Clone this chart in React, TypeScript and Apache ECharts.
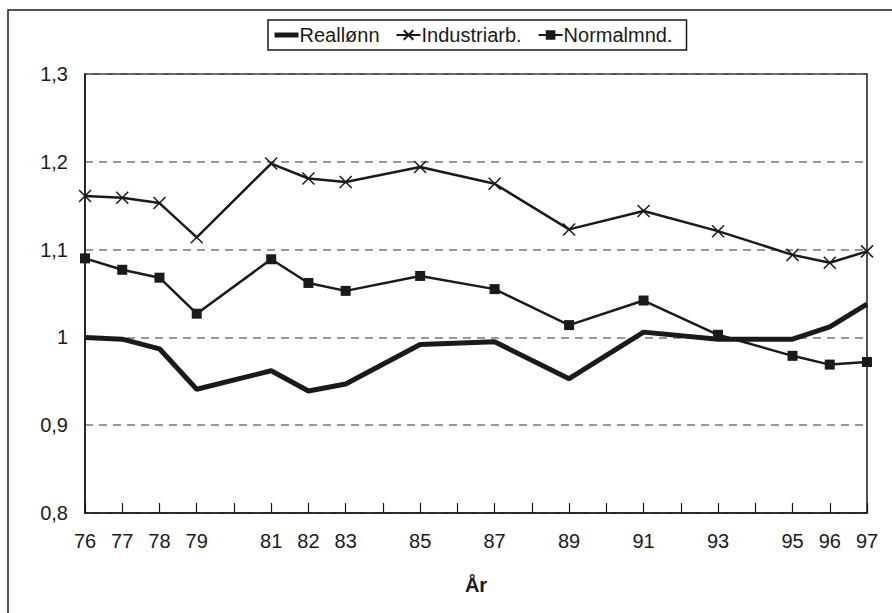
import React, { useEffect, useRef } from "react";
import * as echarts from "echarts";

const years = [76, 77, 78, 79, 81, 82, 83, 85, 87, 89, 91, 93, 95, 96, 97];
const reallonn = [1.0, 0.998, 0.987, 0.941, 0.962, 0.939, 0.947, 0.992, 0.995, 0.953, 1.006, 0.998, 0.998, 1.012, 1.038];
const industriarb = [1.161, 1.159, 1.153, 1.114, 1.198, 1.181, 1.177, 1.194, 1.175, 1.123, 1.144, 1.121, 1.094, 1.085, 1.098];
const normalmnd = [1.09, 1.077, 1.068, 1.027, 1.089, 1.062, 1.053, 1.07, 1.055, 1.014, 1.042, 1.003, 0.979, 0.969, 0.972];
const seriesNames = ["Reallønn", "Industriarb.", "Normalmnd."];

const FONT = "'Liberation Sans', Arial, Helvetica, sans-serif";
const INK = "#1a1a1a";

export default function App() {
  const ref = useRef<HTMLDivElement>(null);
  useEffect(() => {
    if (!ref.current) return;
    const chart = echarts.init(ref.current, null, { renderer: "svg" });
    const pairs = (vals: number[]) => years.map((y, i) => [y, vals[i]]);
    chart.setOption({
      animation: false,
      backgroundColor: "#ffffff",
      textStyle: { fontFamily: FONT, color: INK },
      graphic: [
        {
          type: "rect",
          shape: { x: 8, y: 10, width: 1000, height: 1000 },
          style: { fill: "none", stroke: INK, lineWidth: 1.5 },
          silent: true,
        },
      ],
      legend: {
        data: [
          { name: seriesNames[0], itemStyle: { opacity: 0 }, lineStyle: { width: 5 } },
          { name: seriesNames[1] },
          { name: seriesNames[2] },
        ],
        left: 268,
        top: 20,
        padding: [5, 14, 5, 4],
        borderColor: INK,
        borderWidth: 1.5,
        itemGap: 16,
        itemWidth: 24,
        itemHeight: 12,
        textStyle: { fontFamily: FONT, fontSize: 20, color: INK, padding: [0, 0, 0, -4] },
      },
      grid: {
        left: 85,
        right: 25,
        top: 74,
        bottom: 100,
        show: true,
        borderColor: INK,
        borderWidth: 1.5,
        backgroundColor: "transparent",
      },
      xAxis: {
        type: "value",
        min: 76,
        max: 97,
        interval: 1,
        name: "År",
        nameLocation: "middle",
        nameGap: 62,
        nameTextStyle: { fontFamily: FONT, fontSize: 20, fontWeight: "bold", color: INK },
        axisLine: { show: true, onZero: false, lineStyle: { color: INK, width: 1.5 } },
        axisTick: { show: true, inside: true, length: 10, lineStyle: { color: INK, width: 1.2 } },
        axisLabel: {
          fontFamily: FONT,
          fontSize: 20,
          color: INK,
          margin: 18,
          showMinLabel: true,
          showMaxLabel: true,
          formatter: (v: number) => (years.indexOf(Math.round(v)) >= 0 ? String(Math.round(v)) : ""),
        },
        splitLine: { show: false },
      },
      yAxis: {
        type: "value",
        min: 0.8,
        max: 1.3,
        interval: 0.1,
        axisLine: { show: true, lineStyle: { color: INK, width: 1.5 } },
        axisTick: { show: false },
        axisLabel: {
          fontFamily: FONT,
          fontSize: 20,
          color: INK,
          margin: 17,
          formatter: (v: number) => {
            const r = Number(v.toFixed(1));
            return r === 1 ? "1" : r.toFixed(1).replace(".", ",");
          },
        },
        splitLine: { show: true, lineStyle: { color: "#777", type: [8, 6], width: 1.5 } },
      },
      series: [
        {
          name: seriesNames[0],
          type: "line",
          data: pairs(reallonn),
          symbol: "none",
          lineStyle: { color: INK, width: 5 },
          itemStyle: { color: INK },
        },
        {
          name: seriesNames[1],
          type: "line",
          data: pairs(industriarb),
          symbol: "path://M0,0L10,10M10,0L0,10",
          symbolSize: 12,
          lineStyle: { color: INK, width: 2.5 },
          itemStyle: { color: INK, borderColor: INK, borderWidth: 1.5 },
        },
        {
          name: seriesNames[2],
          type: "line",
          data: pairs(normalmnd),
          symbol: "rect",
          symbolSize: 10,
          lineStyle: { color: INK, width: 2.5 },
          itemStyle: { color: INK, borderColor: INK, borderWidth: 0 },
        },
      ],
    });
    return () => chart.dispose();
  }, []);
  return (
    <div
      ref={ref}
      style={{ position: "absolute", left: 0, top: 0, width: 892, height: 613, background: "#fff" }}
    />
  );
}
